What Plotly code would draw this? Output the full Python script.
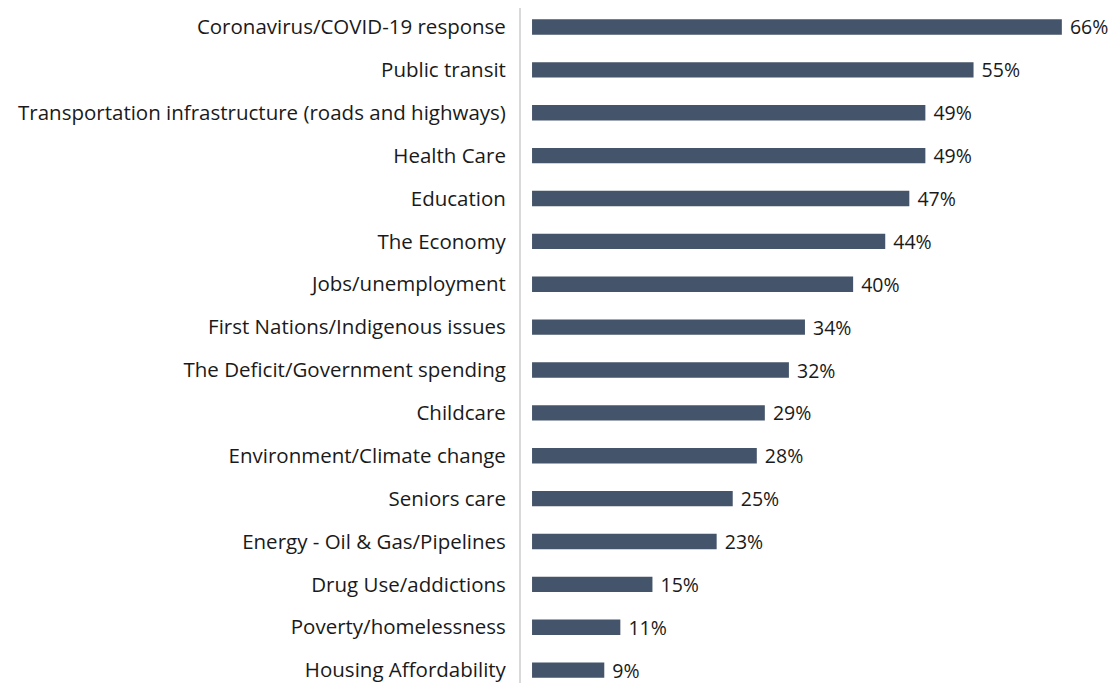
import plotly.graph_objects as go

categories = [
    "Coronavirus/COVID-19 response",
    "Public transit",
    "Transportation infrastructure (roads and highways)",
    "Health Care",
    "Education",
    "The Economy",
    "Jobs/unemployment",
    "First Nations/Indigenous issues",
    "The Deficit/Government spending",
    "Childcare",
    "Environment/Climate change",
    "Seniors care",
    "Energy - Oil & Gas/Pipelines",
    "Drug Use/addictions",
    "Poverty/homelessness",
    "Housing Affordability",
]
values = [66, 55, 49, 49, 47, 44, 40, 34, 32, 29, 28, 25, 23, 15, 11, 9]

FONT = "Open Sans"
BAR_COLOR = "#44546A"

fig = go.Figure(go.Bar(
    x=values,
    y=categories,
    orientation="h",
    marker=dict(color=BAR_COLOR, line=dict(width=0)),
    text=[f"{v}%" for v in values],
    texttemplate=" %{text}",
    textposition="outside",
    constraintext="none",
    textfont=dict(family=FONT, size=19.5, color="#1a1a1a"),
    cliponaxis=False,
))

fig.update_layout(
    width=1112,
    height=675,
    margin=dict(l=513, r=10, t=0, b=0, autoexpand=False),
    paper_bgcolor="white",
    plot_bgcolor="white",
    bargap=0.64,
    showlegend=False,
    font=dict(family=FONT, size=20, color="#1a1a1a"),
)
fig.update_xaxes(
    range=[-1.375, 72.0],
    showgrid=False,
    zeroline=False,
    showticklabels=False,
    showline=False,
)
fig.update_yaxes(
    categoryorder="array",
    categoryarray=categories,
    range=[15.30, -0.443],
    showgrid=False,
    zeroline=False,
    showline=True,
    linecolor="#D9D9D9",
    linewidth=2,
    ticks="",
    ticklabelstandoff=9,
    tickfont=dict(family=FONT, size=20.5, color="#1a1a1a"),
)

fig.write_html("out.html")
